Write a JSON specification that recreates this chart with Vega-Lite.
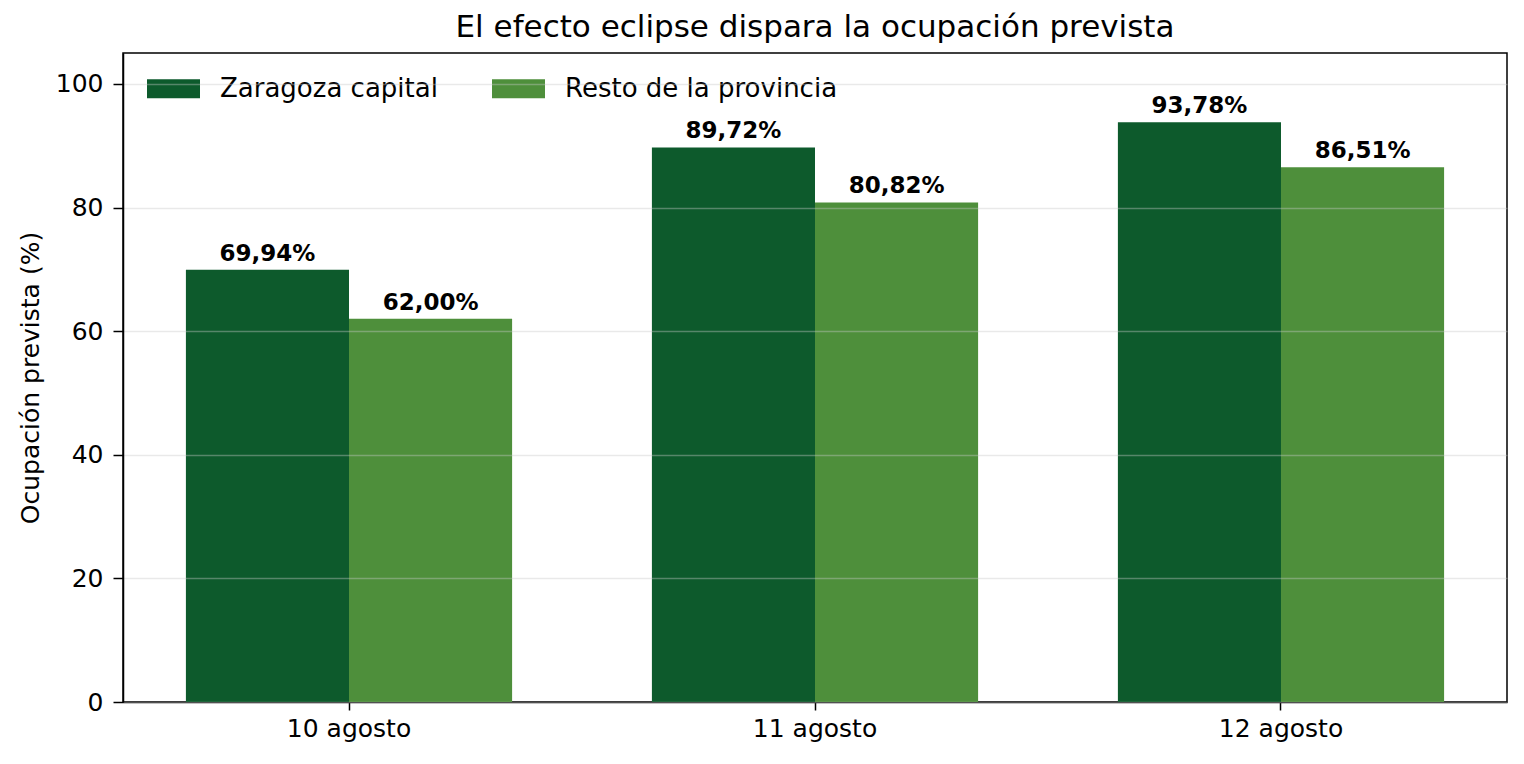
{
  "$schema": "https://vega.github.io/schema/vega-lite/v6.json",
  "width": 1384,
  "height": 649,
  "autosize": {"type": "none"},
  "padding": {"left": 123, "top": 53, "right": 17, "bottom": 62},
  "title": {
    "text": "El efecto eclipse dispara la ocupación prevista",
    "fontSize": 31,
    "fontWeight": "normal",
    "color": "black",
    "anchor": "middle",
    "offset": 9
  },
  "data": {
    "values": [
      {"dia": "10 agosto", "zona": "Zaragoza capital", "ocupacion": 69.94},
      {"dia": "10 agosto", "zona": "Resto de la provincia", "ocupacion": 62.0},
      {"dia": "11 agosto", "zona": "Zaragoza capital", "ocupacion": 89.72},
      {"dia": "11 agosto", "zona": "Resto de la provincia", "ocupacion": 80.82},
      {"dia": "12 agosto", "zona": "Zaragoza capital", "ocupacion": 93.78},
      {"dia": "12 agosto", "zona": "Resto de la provincia", "ocupacion": 86.51}
    ]
  },
  "transform": [
    {"calculate": "replace(format(datum.ocupacion, '.2f'), '.', ',') + '%'", "as": "etiqueta"}
  ],
  "encoding": {
    "x": {
      "field": "dia",
      "type": "nominal",
      "sort": null,
      "scale": {"paddingInner": 0.3, "paddingOuter": 0.135},
      "axis": {
        "title": null,
        "labelAngle": 0,
        "labelFontSize": 25,
        "labelColor": "black",
        "labelPadding": 6,
        "tickSize": 8,
        "tickWidth": 1.5,
        "tickColor": "black",
        "domainColor": "black",
        "domainWidth": 1.5,
        "grid": false
      }
    },
    "xOffset": {
      "field": "zona",
      "type": "nominal",
      "sort": ["Zaragoza capital", "Resto de la provincia"],
      "scale": {"paddingInner": 0, "paddingOuter": 0}
    },
    "y": {
      "field": "ocupacion",
      "type": "quantitative",
      "scale": {"domain": [0, 105], "nice": false},
      "axis": {
        "title": "Ocupación prevista (%)",
        "titleFontSize": 25,
        "titleFontWeight": "normal",
        "titleColor": "black",
        "titlePadding": 12,
        "values": [0, 20, 40, 60, 80, 100],
        "labelFontSize": 25,
        "labelColor": "black",
        "labelPadding": 10,
        "tickSize": 10,
        "tickWidth": 1.5,
        "tickColor": "black",
        "domainColor": "black",
        "domainWidth": 1.5,
        "grid": true,
        "gridColor": "#c8c8c8",
        "gridOpacity": 0.4,
        "gridWidth": 1.5,
        "zindex": 1
      }
    }
  },
  "layer": [
    {
      "mark": {"type": "bar"},
      "encoding": {
        "color": {
          "field": "zona",
          "type": "nominal",
          "scale": {
            "domain": ["Zaragoza capital", "Resto de la provincia"],
            "range": ["#0d5a2c", "#4e8f3b"]
          },
          "legend": {
            "title": null,
            "orient": "none",
            "legendX": 24,
            "legendY": 9,
            "direction": "horizontal",
            "columns": 2,
            "symbolType": "M-1,-0.36H1V0.36H-1Z",
            "symbolSize": 2809,
            "symbolStrokeWidth": 0,
            "symbolOpacity": 1,
            "labelFontSize": 26,
            "labelColor": "black",
            "labelLimit": 0,
            "labelOffset": 20,
            "columnPadding": 54,
            "padding": 0
          }
        }
      }
    },
    {
      "mark": {"type": "text", "baseline": "bottom", "dy": -4, "fontWeight": "bold", "fontSize": 23, "color": "black"},
      "encoding": {
        "text": {"field": "etiqueta", "type": "nominal"}
      }
    }
  ],
  "config": {
    "font": "DejaVu Sans",
    "view": {"stroke": "black", "strokeWidth": 1.5}
  }
}
